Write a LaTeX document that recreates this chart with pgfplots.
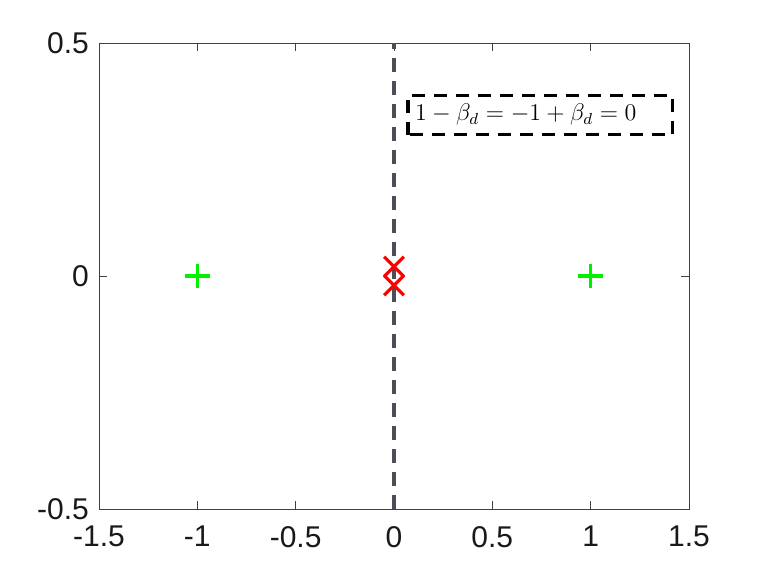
\documentclass[border=0pt]{standalone}
\usepackage{pgfplots}
\pgfplotsset{compat=1.18}
\usepackage{fontspec}
\setmainfont{Liberation Sans}
\begin{document}
\begin{tikzpicture}
\path (0,0) rectangle (380.5pt,285.5pt);
\begin{axis}[
  at={(49.5pt,31pt)}, anchor=south west,
  scale only axis, width=295pt, height=233pt,
  xmin=-1.5, xmax=1.5, ymin=-0.5, ymax=0.5,
  xtick={-1.5,-1,-0.5,0,0.5,1,1.5},
  xticklabels={-1.5,-1,-0.5,0,0.5,1,1.5},
  ytick={-0.5,0,0.5},
  yticklabels={-0.5,0,0.5},
  tick align=inside,
  major tick length=4pt,
  axis line style={color=black!75, line width=0.4pt},
  tick style={color=black!75, line width=0.4pt},
  ticklabel style={font=\fontsize{15}{17}\selectfont, color=black!90},
  xticklabel style={yshift=-5pt},
  yticklabel style={xshift=-1.5pt},
  clip=false,
]
\addplot[color={rgb,255:red,77;green,77;blue,90}, line width=1.6pt, dash pattern=on 7pt off 4.5pt] coordinates {(0,-0.5) (0,0.5)};
\addplot[only marks, mark=+, mark size=6.2pt, color={rgb,255:red,0;green,240;blue,0}, mark options={line width=1.7pt}] coordinates {(-1,0) (1,0)};
\addplot[only marks, mark=x, mark size=7pt, color=red, mark options={line width=1.6pt}] coordinates {(0,0.02) (0,-0.02)};
\draw[black, line width=1.6pt, dash pattern=on 6.5pt off 4.5pt] (axis cs:0.071,0.303) rectangle (axis cs:1.418,0.388);
\node[anchor=west, inner sep=0pt, font=\fontsize{11.5}{13}\selectfont] at (axis cs:0.105,0.346) {$1-\beta_d=-1+\beta_d=0$};
\end{axis}
\end{tikzpicture}
\end{document}
